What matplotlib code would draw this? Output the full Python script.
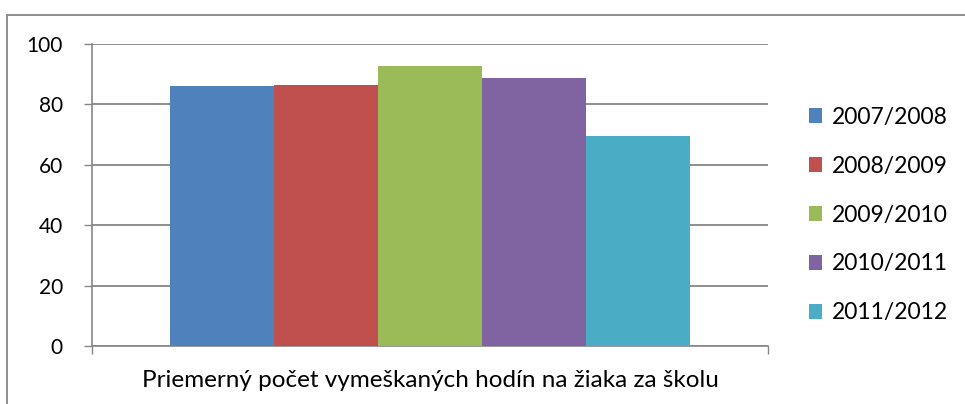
import matplotlib.pyplot as plt
from matplotlib.patches import Rectangle

# data
years = ["2007/2008", "2008/2009", "2009/2010", "2010/2011", "2011/2012"]
values = [86.0, 86.3, 92.8, 88.6, 69.7]
colors = ["#4f81bd", "#c0504d", "#9bbb59", "#8064a2", "#4bacc6"]
category = "Priemerný počet vymeškaných hodín na žiaka za školu"
yticks = [0, 20, 40, 60, 80, 100]

plt.rcParams['font.family'] = ['Lato', 'DejaVu Sans']

W, H = 965, 404
fig = plt.figure(figsize=(W / 100, H / 100), dpi=100)
ax = fig.add_axes([92 / W, 1 - 346 / H, (768 - 92) / W, (346 - 44) / H])

grid_col = "#868686"
positions = [i - (len(values) - 1) / 2 for i in range(len(values))]
handles = []
for pos, val, col, lab in zip(positions, values, colors, years):
    h = ax.bar(pos, val, width=1.0, color=col, label=lab, zorder=3)
    handles.append(h)

ax.set_xlim(-3.25, 3.25)
ax.set_ylim(0, 100)
ax.set_yticks(yticks)
ax.set_yticklabels([str(t) for t in yticks], fontsize=15)
ax.yaxis.grid(True, color=grid_col, linewidth=1.3, zorder=0)
ax.set_axisbelow(True)

ax.set_xticks([-3.25, 3.25])
ax.set_xticklabels([])
ax.tick_params(axis='x', length=6, color=grid_col, width=1)
ax.tick_params(axis='y', length=6, color=grid_col, width=1, pad=15)
for side in ["top", "right"]:
    ax.spines[side].set_visible(False)
for side in ["left", "bottom"]:
    ax.spines[side].set_color(grid_col)
    ax.spines[side].set_linewidth(1.2)

ax.text(0.5, -0.115, category, transform=ax.transAxes, ha="center", va="center",
        fontsize=17.5)

leg = fig.legend(handles=handles, labels=years, loc="center left",
                 bbox_to_anchor=(788 / W, 1 - 215 / H), frameon=False,
                 fontsize=16.5, handlelength=0.6, handleheight=0.6,
                 handletextpad=0.4, labelspacing=1.22)

# chart border
fig.patches.append(Rectangle((7 / W, -0.1), 1.2, 1 - 15 / H + 0.1,
                             transform=fig.transFigure, fill=False,
                             edgecolor=grid_col, linewidth=1.3))

fig.savefig("out.png", dpi=100)
